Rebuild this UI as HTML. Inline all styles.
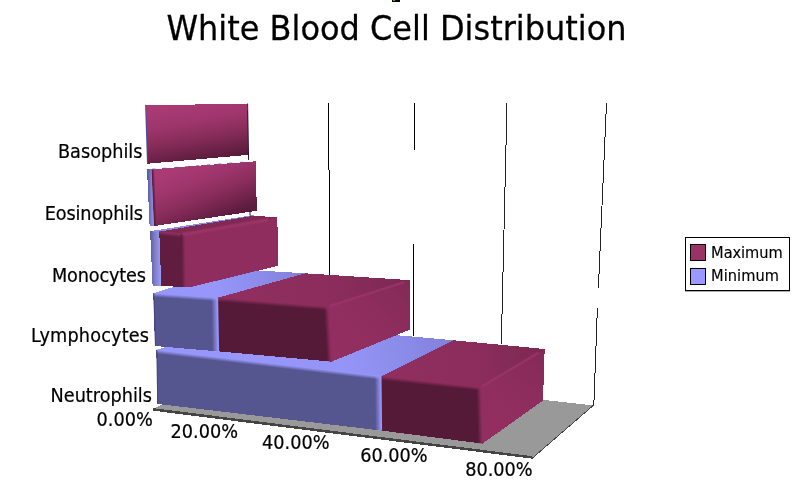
<!DOCTYPE html>
<html>
<head>
<meta charset="utf-8">
<title>White Blood Cell Distribution</title>
<style>
html,body{margin:0;padding:0;background:#fff;}
body{width:800px;height:493px;overflow:hidden;position:relative;}
svg{display:block;position:absolute;left:0;top:0;}
text{font-family:"DejaVu Sans","Liberation Sans",sans-serif;fill:#000;}
</style>
</head>
<body>
<svg width="800" height="493" viewBox="0 0 800 493">
<defs>
<linearGradient id="g1" gradientUnits="userSpaceOnUse" x1="250.00" y1="370.00" x2="450.00" y2="335.00"><stop offset="0" stop-color="#9797fb"/><stop offset="0.5" stop-color="#9494f6"/><stop offset="1" stop-color="#8282dc"/></linearGradient>
<linearGradient id="g2" gradientUnits="userSpaceOnUse" x1="381.00" y1="376.30" x2="544.70" y2="349.00"><stop offset="0" stop-color="#912f60"/><stop offset="0.6" stop-color="#8b2d5c"/><stop offset="1" stop-color="#7c2852"/></linearGradient>
<linearGradient id="g3" gradientUnits="userSpaceOnUse" x1="482.50" y1="443.60" x2="544.70" y2="349.00"><stop offset="0" stop-color="#942f61"/><stop offset="0.5" stop-color="#8f2e5e"/><stop offset="1" stop-color="#832a57"/></linearGradient>
<linearGradient id="g4" gradientUnits="userSpaceOnUse" x1="156.46" y1="349.50" x2="155.96" y2="353.77"><stop offset="0" stop-color="#9797fb" stop-opacity="1"/><stop offset="0.116" stop-color="#9797fb" stop-opacity="1"/><stop offset="1" stop-color="#9797fb" stop-opacity="0"/></linearGradient>
<linearGradient id="g5" gradientUnits="userSpaceOnUse" x1="156.40" y1="350.00" x2="158.00" y2="349.98"><stop offset="0" stop-color="#3a3a78" stop-opacity="1"/><stop offset="0.0" stop-color="#3a3a78" stop-opacity="1"/><stop offset="1" stop-color="#3a3a78" stop-opacity="0"/></linearGradient>
<linearGradient id="g6" gradientUnits="userSpaceOnUse" x1="381.05" y1="375.80" x2="380.57" y2="380.28"><stop offset="0" stop-color="#8f2e5e" stop-opacity="1"/><stop offset="0.111" stop-color="#8f2e5e" stop-opacity="1"/><stop offset="1" stop-color="#8f2e5e" stop-opacity="0"/></linearGradient>
<linearGradient id="g7" gradientUnits="userSpaceOnUse" x1="481.70" y1="386.98" x2="476.40" y2="387.13"><stop offset="0" stop-color="#8f2e5e" stop-opacity="1"/><stop offset="0.151" stop-color="#8f2e5e" stop-opacity="1"/><stop offset="1" stop-color="#8f2e5e" stop-opacity="0"/></linearGradient>
<linearGradient id="g8" gradientUnits="userSpaceOnUse" x1="381.50" y1="376.29" x2="374.70" y2="376.37"><stop offset="0" stop-color="#9797fb" stop-opacity="1"/><stop offset="0.118" stop-color="#9797fb" stop-opacity="1"/><stop offset="1" stop-color="#9797fb" stop-opacity="0"/></linearGradient>
<linearGradient id="g9" gradientUnits="userSpaceOnUse" x1="481.90" y1="386.50" x2="482.82" y2="388.04"><stop offset="0" stop-color="#a03569" stop-opacity="1"/><stop offset="0.0" stop-color="#a03569" stop-opacity="1"/><stop offset="1" stop-color="#a03569" stop-opacity="0"/></linearGradient>
<linearGradient id="g10" gradientUnits="userSpaceOnUse" x1="481.90" y1="386.50" x2="480.98" y2="384.96"><stop offset="0" stop-color="#a03569" stop-opacity="1"/><stop offset="0.0" stop-color="#a03569" stop-opacity="1"/><stop offset="1" stop-color="#a03569" stop-opacity="0"/></linearGradient>
<linearGradient id="g11" gradientUnits="userSpaceOnUse" x1="215.00" y1="292.00" x2="310.00" y2="270.00"><stop offset="0" stop-color="#9797fb"/><stop offset="1" stop-color="#7f7fd6"/></linearGradient>
<linearGradient id="g12" gradientUnits="userSpaceOnUse" x1="217.60" y1="297.80" x2="410.30" y2="280.20"><stop offset="0" stop-color="#912f60"/><stop offset="0.6" stop-color="#8b2d5c"/><stop offset="1" stop-color="#7c2852"/></linearGradient>
<linearGradient id="g13" gradientUnits="userSpaceOnUse" x1="331.60" y1="361.70" x2="410.30" y2="280.20"><stop offset="0" stop-color="#942f61"/><stop offset="0.5" stop-color="#8f2e5e"/><stop offset="1" stop-color="#832a57"/></linearGradient>
<linearGradient id="g14" gradientUnits="userSpaceOnUse" x1="153.33" y1="292.80" x2="153.03" y2="297.09"><stop offset="0" stop-color="#9797fb" stop-opacity="1"/><stop offset="0.116" stop-color="#9797fb" stop-opacity="1"/><stop offset="1" stop-color="#9797fb" stop-opacity="0"/></linearGradient>
<linearGradient id="g15" gradientUnits="userSpaceOnUse" x1="153.30" y1="293.30" x2="154.90" y2="293.25"><stop offset="0" stop-color="#3a3a78" stop-opacity="1"/><stop offset="0.0" stop-color="#3a3a78" stop-opacity="1"/><stop offset="1" stop-color="#3a3a78" stop-opacity="0"/></linearGradient>
<linearGradient id="g16" gradientUnits="userSpaceOnUse" x1="217.64" y1="297.30" x2="217.29" y2="301.79"><stop offset="0" stop-color="#8f2e5e" stop-opacity="1"/><stop offset="0.111" stop-color="#8f2e5e" stop-opacity="1"/><stop offset="1" stop-color="#8f2e5e" stop-opacity="0"/></linearGradient>
<linearGradient id="g17" gradientUnits="userSpaceOnUse" x1="329.30" y1="306.36" x2="324.01" y2="306.65"><stop offset="0" stop-color="#8f2e5e" stop-opacity="1"/><stop offset="0.151" stop-color="#8f2e5e" stop-opacity="1"/><stop offset="1" stop-color="#8f2e5e" stop-opacity="0"/></linearGradient>
<linearGradient id="g18" gradientUnits="userSpaceOnUse" x1="218.10" y1="297.79" x2="211.30" y2="297.91"><stop offset="0" stop-color="#9797fb" stop-opacity="1"/><stop offset="0.118" stop-color="#9797fb" stop-opacity="1"/><stop offset="1" stop-color="#9797fb" stop-opacity="0"/></linearGradient>
<linearGradient id="g19" gradientUnits="userSpaceOnUse" x1="329.50" y1="306.10" x2="330.05" y2="307.81"><stop offset="0" stop-color="#a03569" stop-opacity="1"/><stop offset="0.0" stop-color="#a03569" stop-opacity="1"/><stop offset="1" stop-color="#a03569" stop-opacity="0"/></linearGradient>
<linearGradient id="g20" gradientUnits="userSpaceOnUse" x1="329.50" y1="306.10" x2="328.95" y2="304.39"><stop offset="0" stop-color="#a03569" stop-opacity="1"/><stop offset="0.0" stop-color="#a03569" stop-opacity="1"/><stop offset="1" stop-color="#a03569" stop-opacity="0"/></linearGradient>
<linearGradient id="g21" gradientUnits="userSpaceOnUse" x1="150.50" y1="258.00" x2="160.50" y2="258.00"><stop offset="0" stop-color="#5c5c9c"/><stop offset="0.35" stop-color="#7878c4"/><stop offset="1" stop-color="#9a9af4"/></linearGradient>
<linearGradient id="g22" gradientUnits="userSpaceOnUse" x1="159.39" y1="231.01" x2="158.89" y2="235.28"><stop offset="0" stop-color="#8f2e5e" stop-opacity="1"/><stop offset="0.186" stop-color="#8f2e5e" stop-opacity="1"/><stop offset="1" stop-color="#8f2e5e" stop-opacity="0"/></linearGradient>
<linearGradient id="g23" gradientUnits="userSpaceOnUse" x1="180.50" y1="234.41" x2="185.30" y2="234.35"><stop offset="0" stop-color="#601d40" stop-opacity="1"/><stop offset="0.167" stop-color="#601d40" stop-opacity="1"/><stop offset="1" stop-color="#601d40" stop-opacity="0"/></linearGradient>
<linearGradient id="g24" gradientUnits="userSpaceOnUse" x1="182.50" y1="234.40" x2="182.94" y2="236.96"><stop offset="0" stop-color="#a03569" stop-opacity="1"/><stop offset="0.0" stop-color="#a03569" stop-opacity="1"/><stop offset="1" stop-color="#a03569" stop-opacity="0"/></linearGradient>
<linearGradient id="g25" gradientUnits="userSpaceOnUse" x1="182.50" y1="234.40" x2="182.06" y2="231.84"><stop offset="0" stop-color="#a03569" stop-opacity="1"/><stop offset="0.0" stop-color="#a03569" stop-opacity="1"/><stop offset="1" stop-color="#a03569" stop-opacity="0"/></linearGradient>
<linearGradient id="g26" gradientUnits="userSpaceOnUse" x1="148.00" y1="197.00" x2="153.50" y2="197.00"><stop offset="0" stop-color="#5c5ca0"/><stop offset="0.6" stop-color="#8080cc"/><stop offset="1" stop-color="#9494e6"/></linearGradient>
<linearGradient id="g27" gradientUnits="userSpaceOnUse" x1="190.00" y1="166.00" x2="212.00" y2="222.00"><stop offset="0" stop-color="#a93a73"/><stop offset="0.3" stop-color="#9d356b"/><stop offset="0.6" stop-color="#872c5a"/><stop offset="1" stop-color="#5c1c3e"/></linearGradient>
<linearGradient id="g28" gradientUnits="userSpaceOnUse" x1="151.70" y1="169.31" x2="154.60" y2="169.19"><stop offset="0" stop-color="#561a39" stop-opacity="1"/><stop offset="0.103" stop-color="#561a39" stop-opacity="1"/><stop offset="1" stop-color="#561a39" stop-opacity="0"/></linearGradient>
<linearGradient id="g29" gradientUnits="userSpaceOnUse" x1="191.00" y1="104.00" x2="201.00" y2="162.00"><stop offset="0" stop-color="#a93a73"/><stop offset="0.3" stop-color="#9e366c"/><stop offset="0.6" stop-color="#862c59"/><stop offset="1" stop-color="#581a3a"/></linearGradient>
</defs>
<rect width="800" height="493" fill="#fff"/>
<!-- selection handle remnant -->
<rect x="392" y="0" width="8" height="2" fill="#000"/>
<rect x="393" y="0" width="2" height="1" fill="#0c0"/>
<!-- title -->
<text transform="translate(166.4,40.0) scale(1,1.073)" font-size="32" stroke="#000" stroke-width="0.25">White Blood Cell Distribution</text>
<!-- grid lines -->
<g stroke="#000" stroke-width="1" fill="none" shape-rendering="crispEdges">
<path d="M328.5 103V170M329.5 170V275"/>
<path d="M414.5 103V150M413.5 244V336"/>
<path d="M507 103L501.3 344" stroke="#222"/>
<path d="M606.5 103L598.4 288M597.4 308L593.8 406" stroke="#222"/>
</g>
<!-- floor -->
<polygon points="153.10,409.00 161.20,404.70 540.00,399.50 593.40,405.40 532.40,458.40 153.10,410.60" fill="#999999" shape-rendering="crispEdges"/>
<polygon points="153.10,408.10 531.60,456.10 532.60,457.30 593.20,404.90 593.90,405.50 532.40,458.70 153.10,410.70" fill="#444444" shape-rendering="crispEdges"/>
<!-- Neutrophils -->
<polygon points="156.40,350.00 240.00,323.30 410.00,336.30 453.60,340.30 381.00,376.30" fill="url(#g1)" shape-rendering="crispEdges"/>
<polygon points="381.00,376.30 453.60,340.30 544.70,349.00 480.90,387.00" fill="url(#g2)" shape-rendering="crispEdges"/>
<polygon points="156.40,350.00 381.00,376.30 381.60,430.60 157.20,403.90" fill="#55558f" shape-rendering="crispEdges"/>
<polygon points="381.00,376.30 480.90,387.00 482.50,443.60 381.60,430.60" fill="#551a38" shape-rendering="crispEdges"/>
<polygon points="480.90,387.00 544.70,349.00 543.00,400.60 482.50,443.60" fill="url(#g3)" shape-rendering="crispEdges"/>
<polygon points="156.46,349.50 381.06,375.80 380.56,380.07 155.96,353.77" fill="url(#g4)"/>
<polygon points="156.40,350.00 157.20,403.90 158.80,403.88 158.00,349.98" fill="url(#g5)"/>
<polygon points="381.05,375.80 480.95,386.50 480.47,390.98 380.57,380.28" fill="url(#g6)"/>
<polygon points="481.70,386.98 483.30,443.58 478.00,443.73 476.40,387.13" fill="url(#g7)"/>
<polygon points="381.50,376.29 382.10,430.59 375.30,430.67 374.70,376.37" fill="url(#g8)"/>
<polygon points="481.90,386.50 538.70,352.50 539.62,354.04 482.82,388.04" fill="url(#g9)"/>
<polygon points="481.90,386.50 538.70,352.50 537.78,350.96 480.98,384.96" fill="url(#g10)"/>
<!-- Lymphocytes -->
<polygon points="153.30,293.30 230.00,269.00 262.60,270.80 305.40,273.30 217.60,297.80" fill="url(#g11)" shape-rendering="crispEdges"/>
<polygon points="217.60,297.80 305.40,273.30 410.30,280.20 328.50,306.40" fill="url(#g12)" shape-rendering="crispEdges"/>
<polygon points="153.30,293.30 217.60,297.80 218.60,351.40 155.00,346.00" fill="#55558f" shape-rendering="crispEdges"/>
<polygon points="217.60,297.80 328.50,306.40 331.60,361.70 218.60,351.40" fill="#551a38" shape-rendering="crispEdges"/>
<polygon points="328.50,306.40 410.30,280.20 409.70,329.70 331.60,361.70" fill="url(#g13)" shape-rendering="crispEdges"/>
<polygon points="153.33,292.80 217.63,297.30 217.33,301.59 153.03,297.09" fill="url(#g14)"/>
<polygon points="153.30,293.30 155.00,346.00 156.60,345.95 154.90,293.25" fill="url(#g15)"/>
<polygon points="217.64,297.30 328.54,305.90 328.19,310.39 217.29,301.79" fill="url(#g16)"/>
<polygon points="329.30,306.36 332.40,361.66 327.11,361.95 324.01,306.65" fill="url(#g17)"/>
<polygon points="218.10,297.79 219.10,351.39 212.30,351.51 211.30,297.91" fill="url(#g18)"/>
<polygon points="329.50,306.10 404.30,282.20 404.85,283.91 330.05,307.81" fill="url(#g19)"/>
<polygon points="329.50,306.10 404.30,282.20 403.75,280.49 328.95,304.39" fill="url(#g20)"/>
<!-- Monocytes -->
<polygon points="150.10,231.20 159.60,231.20 161.60,285.80 152.60,285.60" fill="url(#g21)" shape-rendering="crispEdges"/>
<polygon points="150.10,231.20 253.50,215.00 253.50,216.20 159.30,232.20" fill="#8c8ce6" shape-rendering="crispEdges"/>
<polygon points="159.30,231.60 253.50,215.70 277.30,217.40 181.60,234.60" fill="#802955" shape-rendering="crispEdges"/>
<polygon points="159.30,231.80 181.60,234.40 182.20,287.00 161.30,285.90" fill="#601d40" shape-rendering="crispEdges"/>
<polygon points="181.60,234.40 277.30,217.40 278.30,265.70 189.70,287.30 182.20,287.00" fill="#8f2e5e" shape-rendering="crispEdges"/>
<polygon points="159.39,231.01 181.69,233.61 181.19,237.88 158.89,235.28" fill="url(#g22)"/>
<polygon points="180.50,234.41 181.10,287.01 185.90,286.95 185.30,234.35" fill="url(#g23)"/>
<polygon points="182.50,234.40 268.00,219.60 268.44,222.16 182.94,236.96" fill="url(#g24)"/>
<polygon points="182.50,234.40 268.00,219.60 267.56,217.04 182.06,231.84" fill="url(#g25)"/>
<!-- Eosinophils -->
<polygon points="147.00,168.80 152.60,168.80 154.60,225.60 149.60,226.00" fill="url(#g26)" shape-rendering="crispEdges"/>
<polygon points="151.80,169.30 255.50,161.30 256.90,210.80 154.20,226.00" fill="url(#g27)" shape-rendering="crispEdges"/>
<polygon points="151.70,169.31 154.10,226.01 157.00,225.89 154.60,169.19" fill="url(#g28)"/>
<path d="M152.00 169.20L248.00 161.80" stroke="#6060b8" stroke-width="0.8" fill="none" stroke-dasharray="3.5 7.5"/>
<!-- Basophils -->
<polygon points="145.60,104.80 247.40,104.20 248.40,154.90 147.50,163.70" fill="url(#g29)" shape-rendering="crispEdges"/>
<path d="M145.60 104.80L147.50 163.70" stroke="#4a4aa0" stroke-width="1" fill="none"/>
<path d="M247.60 103.50L248.60 160.00" stroke="#2a1030" stroke-width="1" fill="none"/>
<path d="M250.00 210.50L250.00 215.50" stroke="#2a1030" stroke-width="1" fill="none"/>
<!-- category labels -->
<g font-size="17.7" stroke="#000" stroke-width="0.2">
<text transform="translate(142.5,158) scale(1,1.135)" text-anchor="end" textLength="84.55">Basophils</text>
<text transform="translate(143,219.8) scale(1,1.135)" text-anchor="end" textLength="98.2">Eosinophils</text>
<text transform="translate(146,281.6) scale(1,1.135)" text-anchor="end" textLength="94.0">Monocytes</text>
<text transform="translate(149,341.7) scale(1,1.135)" text-anchor="end" textLength="117.9">Lymphocytes</text>
<text transform="translate(152,402) scale(1,1.135)" text-anchor="end" textLength="101.5">Neutrophils</text>
<text transform="translate(96.5,426.3) scale(1,1.135)">0.00%</text>
<text transform="translate(170.6,437.7) scale(1,1.135)">20.00%</text>
<text transform="translate(262,448.7) scale(1,1.135)">40.00%</text>
<text transform="translate(360.2,461.9) scale(1,1.135)">60.00%</text>
<text transform="translate(465.2,475.5) scale(1,1.135)">80.00%</text>
</g>
<!-- legend -->
<rect x="685.5" y="237.5" width="104" height="53" fill="#fff" stroke="#000" stroke-width="1" shape-rendering="crispEdges"/>
<rect x="685" y="291" width="105" height="0.6" fill="#777"/>
<rect x="690.5" y="244.5" width="15" height="16" fill="#993366" stroke="#000" stroke-width="1" shape-rendering="crispEdges"/>
<rect x="690.5" y="268.5" width="15" height="16" fill="#9999ff" stroke="#000" stroke-width="1" shape-rendering="crispEdges"/>
<g font-size="14.6" stroke="#000" stroke-width="0.15">
<text transform="translate(711.1,257.8) scale(1,1.04)" textLength="71.6">Maximum</text>
<text transform="translate(711.1,281.2) scale(1,1.04)" textLength="67.8">Minimum</text>
</g>
</svg>
</body>
</html>
